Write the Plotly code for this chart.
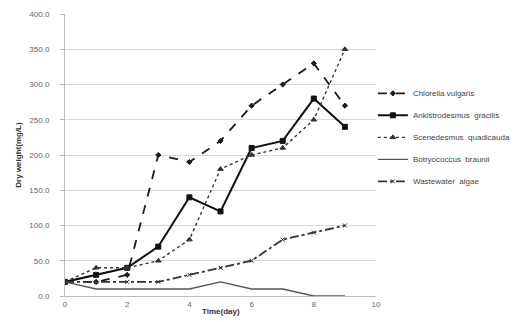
import plotly.graph_objects as go

# Culture time (days)
days = [0, 1, 2, 3, 4, 5, 6, 7, 8, 9]

# Dry weight (mg/L) per species
chlorella = [20, 20, 30, 200, 190, 220, 270, 300, 330, 270]
ankistrodesmus = [20, 30, 40, 70, 140, 120, 210, 220, 280, 240]
scenedesmus = [20, 40, 40, 50, 80, 180, 200, 210, 250, 350]
botryococcus = [20, 10, 10, 10, 10, 20, 10, 10, 0, 0]
wastewater = [20, 20, 20, 20, 30, 40, 50, 80, 90, 100]

names = ["Chlorella vulgaris", "Ankistrodesmus  gracilis", "Scenedesmus  quadicauda",
         "Botryococcus  braunii", "Wastewater  algae"]

y_ticks = [0, 50, 100, 150, 200, 250, 300, 350, 400]
x_ticks = [0, 2, 4, 6, 8, 10]

styles = [
    dict(series=chlorella, dash="dash", width=1.8, color="#1a1a1a", symbol="diamond", size=4),
    dict(series=ankistrodesmus, dash="solid", width=2, color="#111111", symbol="square", size=5),
    dict(series=scenedesmus, dash="dot", width=1.4, color="#333333", symbol="triangle-up", size=5),
    dict(series=botryococcus, dash="solid", width=1.4, color="#555555", symbol=None, size=0),
    dict(series=wastewater, dash="dashdot", width=1.8, color="#333333", symbol="x-thin", size=4),
]

fig = go.Figure()
for i, (name, st) in enumerate(zip(names, styles)):
    mode = "lines+markers" if st["symbol"] else "lines"
    marker = dict(symbol=st["symbol"], size=st["size"], color=st["color"],
                  line=dict(color=st["color"], width=1)) if st["symbol"] else None
    fig.add_trace(go.Scatter(
        x=days, y=st["series"], name=name, mode=mode, legendgroup=f"g{i}",
        line=dict(color=st["color"], width=st["width"], dash=st["dash"]),
        marker=marker,
    ))

fig.update_layout(
    width=518, height=322,
    margin=dict(l=65, r=142, t=14, b=26, autoexpand=False),
    paper_bgcolor="white", plot_bgcolor="white",
    font=dict(family="Liberation Sans, Arial, sans-serif", size=8, color="#555555"),
    showlegend=True,
    legend=dict(x=0.99, y=0.77, xanchor="left", yanchor="top",
                font=dict(size=8, color="#444444"), tracegroupgap=3,
                itemwidth=30, bgcolor="rgba(0,0,0,0)"),
    xaxis=dict(range=[0, 10], tickvals=x_ticks, ticktext=[str(v) for v in x_ticks],
               showgrid=False, zeroline=False, showline=True, linecolor="#bbbbbb",
               linewidth=1, ticks="", tickfont=dict(size=8, color="#666666")),
    yaxis=dict(range=[0, 400], tickvals=y_ticks, ticktext=[f"{v:.1f}" for v in y_ticks],
               showgrid=True, gridcolor="#d9d9d9", gridwidth=1, zeroline=False,
               showline=True, linecolor="#bbbbbb", linewidth=1,
               ticks="outside", ticklen=4, tickcolor="#bbbbbb", ticklabelstandoff=9,
               tickfont=dict(size=8, color="#666666"),
               title=dict(text="<b>Dry weight(mg/L)</b>", font=dict(size=8, color="#333333"),
                          standoff=6)),
)

# Horizontal axis title sits in the tick-label row, between the 4 and 6 labels
fig.add_annotation(text="<b>Time(day)</b>", x=5.0, y=0, xref="x", yref="paper",
                   yanchor="top", yshift=-9, showarrow=False,
                   font=dict(size=8, color="#333333"))

fig.write_html("out.html")
